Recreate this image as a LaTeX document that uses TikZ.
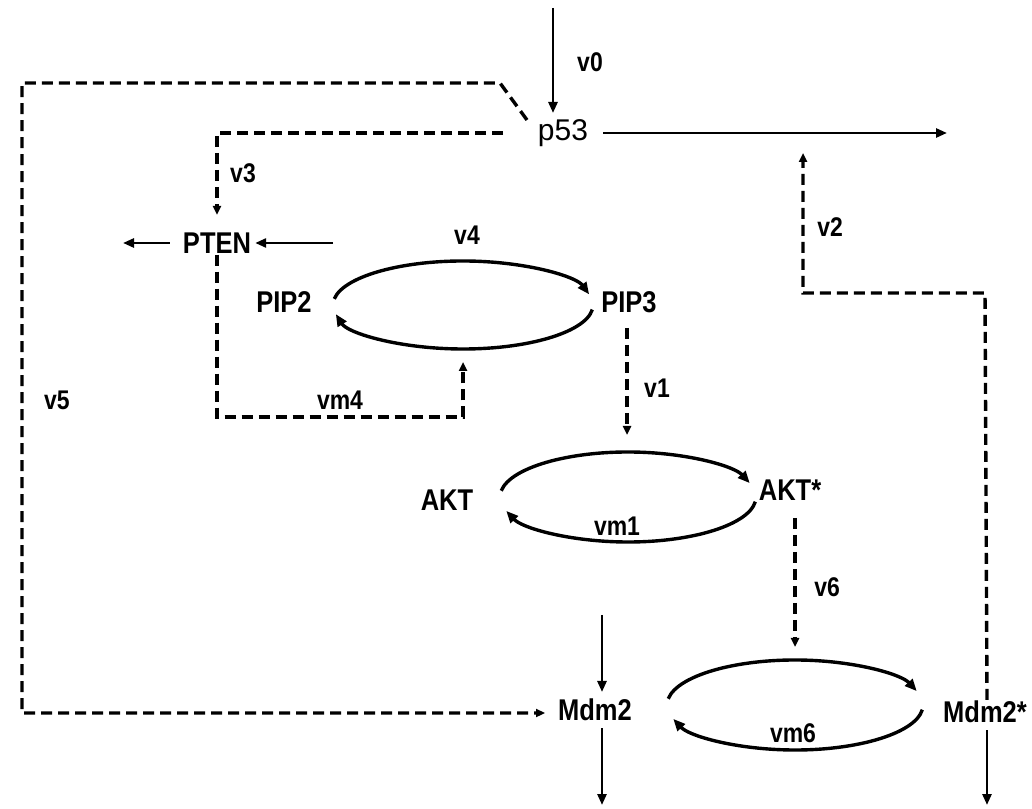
\documentclass[tikz,border=0pt]{standalone}
\usepackage{fontspec}
\setmainfont{Liberation Sans}
\newfontfamily\labfont{Liberation Sans}[FakeStretch=0.85]
\usetikzlibrary{arrows.meta,calc}
\begin{document}
\begin{tikzpicture}[x=1pt,y=1pt,
  lab/.style={font=\labfont\bfseries\fontsize{30}{30}\selectfont, inner sep=1pt},
  rate/.style={font=\labfont\bfseries\fontsize{27}{27}\selectfont, inner sep=1pt},
  big/.style={font=\fontsize{30}{30}\selectfont, inner sep=1pt},
  solidarr/.style={line width=2.6pt, -{Triangle[length=11pt,width=9pt]}},
  dashline/.style={line width=3.4pt, dash pattern=on 11pt off 6pt},
  dasharr/.style={dashline, -{Triangle[length=9pt,width=8pt]}},
  arcarr/.style={line width=3.4pt, -{Triangle[length=12pt,width=10pt]}}]
\useasboundingbox (0,0) rectangle (1032,808);
% species
\node[big] (p53) at (563,675) {p53};
\node[lab] (PTEN) at (217,565) {PTEN};
\node[lab] (PIP2) at (284,506) {PIP2};
\node[lab] (PIP3) at (629,506) {PIP3};
\node[lab] (AKT) at (447,308) {AKT};
\node[lab] (AKTs) at (790,318) {AKT*};
\node[lab] (Mdm2) at (595,98) {Mdm2};
\node[lab] (Mdm2s) at (985,96) {Mdm2*};
% rate labels
\node[rate] (v0) at (590,746) {v0};
\node[rate] (v3) at (243,635) {v3};
\node[rate] (v2) at (830,581) {v2};
\node[rate] (v4) at (467,573) {v4};
\node[rate] (vm4) at (340,408) {vm4};
\node[rate] (v5) at (57,408) {v5};
\node[rate] (v1) at (657,420) {v1};
\node[rate] (vm1) at (617,282) {vm1};
\node[rate] (v6) at (827,221) {v6};
\node[rate] (vm6) at (793,75) {vm6};
% coordinates
\coordinate (v0s) at (553,800);
\coordinate (v0e) at (553,695);
\coordinate (p53o) at (947,675);
\coordinate (p53d) at (527,688);
\coordinate (fbA) at (500,725);
\coordinate (fbB) at (22,725);
\coordinate (fbC) at (22,95);
\coordinate (fbD) at (545,95);
\coordinate (v3a) at (503,675);
\coordinate (v3b) at (217,675);
\coordinate (v3c) at (217,593);
\coordinate (ptenL) at (123,565);
\coordinate (ptenIn) at (333,565);
\coordinate (vm4a) at (217,391);
\coordinate (vm4b) at (463,391);
\coordinate (vm4c) at (463,446);
\coordinate (v1a) at (627,480);
\coordinate (v1b) at (627,373);
\coordinate (v6a) at (795,290);
\coordinate (v6b) at (795,161);
\coordinate (v2a) at (985,515);
\coordinate (v2b) at (803,515);
\coordinate (v2c) at (803,655);
\coordinate (mdIn) at (602,193);
\coordinate (mdInE) at (602,116);
\coordinate (mdOutS) at (602,80);
\coordinate (mdOut) at (602,3);
\coordinate (mdsOutS) at (987,78);
\coordinate (mdsOut) at (987,3);
\coordinate (e1) at (463,503);
\coordinate (e2) at (628,311);
\coordinate (e3) at (795,103);
% solid arrows
\draw[solidarr] (v0s) -- (v0e);
\draw[solidarr] ([xshift=14pt]p53.east) -- (p53o);
\draw[solidarr] ([xshift=-12pt]PTEN.west) -- (ptenL);
\draw[solidarr] (ptenIn) -- ([xshift=3pt]PTEN.east);
\draw[solidarr] (mdIn) -- (mdInE);
\draw[solidarr] (mdOutS) -- (mdOut);
\draw[solidarr] (mdsOutS) -- (mdsOut);
% dashed
\draw[dasharr] (p53d) -- (fbA) -- (fbB) -- (fbC) -- (fbD);
\draw[dasharr] (v3a) -- (v3b) -- (v3c);
\draw[dasharr] (PTEN.south) -- (vm4a) -- (vm4b) -- (vm4c);
\draw[dasharr] (v1a) -- (v1b);
\draw[dasharr] (v6a) -- (v6b);
\draw[dasharr] (Mdm2s.north -| mdsOut) -- (v2a) -- (v2b) -- (v2c);
% cycles
\draw[arcarr] (e1) ++(172:130 and 44) arc[start angle=172, end angle=14, x radius=130, y radius=44];
\draw[arcarr] (e1) ++(-6:130 and 44) arc[start angle=-6, end angle=-168, x radius=130, y radius=44];
\draw[arcarr] (e2) ++(172:128 and 45) arc[start angle=172, end angle=18, x radius=128, y radius=45];
\draw[arcarr] (e2) ++(-6:128 and 45) arc[start angle=-6, end angle=-162, x radius=128, y radius=45];
\draw[arcarr] (e3) ++(172:128 and 45) arc[start angle=172, end angle=18, x radius=128, y radius=45];
\draw[arcarr] (e3) ++(-6:128 and 45) arc[start angle=-6, end angle=-162, x radius=128, y radius=45];
\end{tikzpicture}
\end{document}
